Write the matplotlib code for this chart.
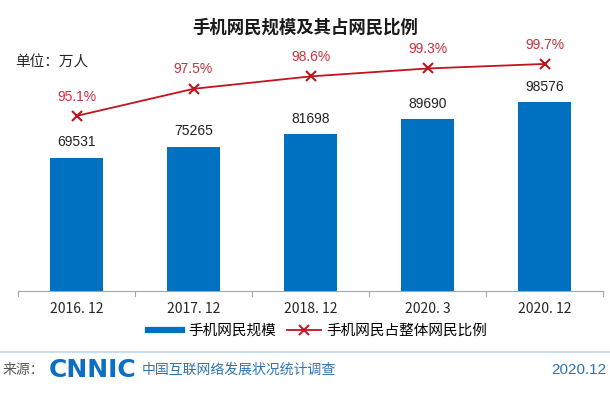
import matplotlib.pyplot as plt
from matplotlib.lines import Line2D
import numpy as np

plt.rcParams['font.family'] = ['Noto Sans CJK SC', 'DejaVu Sans']

# 数据
categories = ['2016. 12', '2017. 12', '2018. 12', '2020. 3', '2020. 12']
users = [69531, 75265, 81698, 89690, 98576]
ratio = [95.1, 97.5, 98.6, 99.3, 99.7]
ratio_labels = ['95.1%', '97.5%', '98.6%', '99.3%', '99.7%']

bar_color = '#0070C0'
line_color = '#C0141E'
pct_color = '#C8323C'

W, H = 610, 395
fig = plt.figure(figsize=(6.1, 3.95), dpi=100)

ax = fig.add_axes([18 / W, (H - 291) / H, (603 - 18) / W, (291 - 40) / H])
ax.patch.set_alpha(0)
x = np.arange(len(categories))

ax.bar(x, users, width=0.45, color=bar_color, zorder=2)
for xi, v in zip(x, users):
    ax.text(xi, v + 4500, str(v), ha='center', va='bottom', fontsize=10,
            family='Liberation Sans', color='#222222')

ax.set_xlim(-0.5, len(categories) - 0.5)
ax.set_ylim(0, 131000)
ax.set_yticks([])
for s in ['top', 'left', 'right']:
    ax.spines[s].set_visible(False)
ax.spines['bottom'].set_color('#A6A6A6')
ax.set_xticks(x)
ax.set_xticklabels(categories, fontsize=10, color='#262626')
ax.tick_params(axis='x', length=0, pad=8)
# 分隔刻度
for b in np.arange(-0.5, len(categories) + 0.5, 1.0):
    ax.plot([b, b], [0, -2500], color='#A6A6A6', lw=0.8, clip_on=False)

ax2 = ax.twinx()
ax2.plot(x, ratio, color=line_color, lw=1.3, marker='x', markersize=7,
         markeredgewidth=1.5, zorder=3)
ax2.set_ylim(79.61, 101.82)
ax2.set_yticks([])
for s in ['top', 'left', 'right', 'bottom']:
    ax2.spines[s].set_visible(False)
for xi, v, lab in zip(x, ratio, ratio_labels):
    ax2.text(xi, v + 1.1, lab, ha='center', va='bottom', fontsize=10,
             family='Liberation Sans', color=pct_color)

fig.text(305 / W, 1 - 28 / H, '手机网民规模及其占网民比例', ha='center', va='center',
         fontsize=12.5, fontweight='bold', color='#1A1A1A')
fig.text(15 / W, 1 - 63 / H, '单位：万人', ha='left', va='center',
         fontsize=10.5, fontweight='medium', color='#262626')

handles = [Line2D([0], [0], color=bar_color, lw=4.5),
           Line2D([0], [0], color=line_color, lw=1.3, marker='x',
                  markersize=7, markeredgewidth=1.4)]
fig.legend(handles, ['手机网民规模', '手机网民占整体网民比例'],
           loc='center', bbox_to_anchor=(318 / W, 1 - 331 / H), ncol=2,
           frameon=False, fontsize=10.5, handlelength=2.3, columnspacing=0.8,
           handletextpad=0.4)

# 页脚
fig.add_artist(Line2D([0, 1], [1 - 352 / H] * 2, color='#BDD7EE', lw=1.2))
fig.text(3 / W, 1 - 370 / H, '来源：', ha='left', va='center', fontsize=10,
         color='#595959')
fig.text(49 / W, 1 - 370 / H, 'CNNIC', ha='left', va='center', fontsize=18,
         fontweight='bold', family='DejaVu Sans', color='#0B6FC4')
fig.text(142 / W, 1 - 370 / H, '中国互联网络发展状况统计调查', ha='left',
         va='center', fontsize=10, color='#2E75B6')
fig.text(606 / W, 1 - 370 / H, '2020.12', ha='right', va='center', fontsize=11,
         family='Liberation Sans', color='#2E75B6')

fig.savefig('out.png', dpi=100)
